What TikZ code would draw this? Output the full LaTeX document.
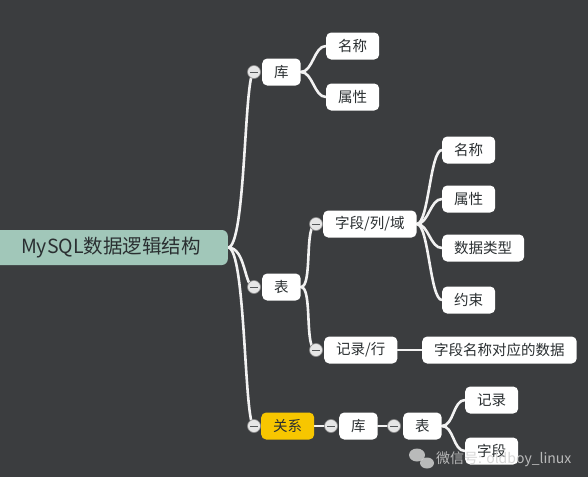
\documentclass[tikz,border=0pt]{standalone}
\usepackage{fontspec}
\setmainfont{Noto Sans CJK SC}
\definecolor{bgc}{HTML}{3B3D3F}
\definecolor{rootc}{HTML}{A1C7B9}
\definecolor{textc}{HTML}{2A2F31}
\definecolor{linkc}{HTML}{F2F2F2}
\definecolor{relyellow}{HTML}{F7C600}
\definecolor{collc}{HTML}{E6E6E6}
\definecolor{collborder}{HTML}{8A8A8A}
\definecolor{wmc}{HTML}{D0D0D0}
\pgfdeclarelayer{bg}
\pgfsetlayers{bg,main}
\begin{document}
\begin{tikzpicture}[x=1pt,y=-1pt,
  leaf/.style={fill=white, rounded corners=5pt, minimum height=27pt, inner xsep=12pt, inner ysep=0pt, anchor=west, font=\fontsize{14.5}{14.5}\selectfont, text=textc},
  rel/.style={leaf, fill=relyellow},
  coll/.style={circle, fill=collc, draw=collborder, line width=0.6pt, minimum size=13pt, inner sep=0pt,
    path picture={\draw[line width=1pt, textc!80] ([xshift=-3.8pt]path picture bounding box.center) -- ([xshift=3.8pt]path picture bounding box.center);}},
  link/.style={draw=linkc, line width=2.6pt, line cap=round},
  curve/.style={to path={(\tikztostart) .. controls +(12,0) and +(-12,0) .. (\tikztotarget)}},
  rootcurve/.style={to path={(\tikztostart) .. controls +(18,0) and +(-10,0) .. (\tikztotarget)}}]
\clip (0,0) rectangle (588,477);
\useasboundingbox (0,0) rectangle (588,477);
\begin{pgfonlayer}{bg}
\fill[bgc] (0,0) rectangle (588,477);
\end{pgfonlayer}

% root
\node[fill=rootc, rounded corners=6pt, minimum height=35pt, inner xsep=27pt, anchor=east, text=textc,
  font=\fontsize{19.5}{19.5}\selectfont] (root) at (228,247.5) {\hspace*{30pt}MySQL数据逻辑结构};

% level 1
\node[leaf] (ku1) at (262,72) {库};
\node[coll] (cku1) at (254,72) {};
\node[leaf] (biao) at (262,287) {表};
\node[coll] (cbiao) at (254,287) {};
\node[rel] (gx) at (261,426) {关系};
\node[coll] (cgx) at (254,426) {};

% children of 库
\node[leaf] (ming1) at (326,46) {名称};
\node[leaf] (shu1) at (326,97) {属性};

% children of 表
\node[leaf] (zd) at (323,224) {字段/列/域};
\node[coll] (czd) at (316,224) {};
\node[leaf] (jl) at (324,350) {记录/行};
\node[coll] (cjl) at (316,350) {};

\node[leaf] (m2) at (442,150) {名称};
\node[leaf] (s2) at (442,199) {属性};
\node[leaf] (lx) at (442,248) {数据类型};
\node[leaf] (ys) at (442,300) {约束};

\node[leaf] (data) at (422,350) {字段名称对应的数据};

% relation chain
\node[leaf] (ku2) at (339,426) {库};
\node[coll] (cku2) at (331,426) {};
\node[leaf] (b2) at (403,426) {表};
\node[coll] (cb2) at (394,426) {};
\node[leaf] (jl2) at (465,400) {记录};
\node[leaf] (zd2) at (465,451) {字段};

% watermark
\node[text=wmc, opacity=0.85, font=\fontsize{14}{14}\selectfont, anchor=west, inner sep=0pt] (wm) at (436,459) {微信号: oldboy\_linux};
\fill[wmc, opacity=0.85] (417,455) ellipse (8pt and 6.5pt);
\fill[wmc, opacity=0.85] (427,463) ellipse (7pt and 5.5pt);

\begin{pgfonlayer}{bg}
\path[link] (root.east) to[rootcurve] (cku1.center);
\path[link] (root.east) to[rootcurve] (cbiao.center);
\path[link] (root.east) to[rootcurve] (cgx.center);
\path[link] (ku1.east) to[curve] (ming1.west);
\path[link] (ku1.east) to[curve] (shu1.west);
\path[link] (biao.east) to[curve] (czd.center);
\path[link] (biao.east) to[curve] (cjl.center);
\path[link] (zd.east) to[curve] (m2.west);
\path[link] (zd.east) to[curve] (s2.west);
\path[link] (zd.east) to[curve] (lx.west);
\path[link] (zd.east) to[curve] (ys.west);
\path[link] (jl.east) -- (data.west);
\path[link] (gx.east) -- (cku2.center);
\path[link] (ku2.east) -- (cb2.center);
\path[link] (b2.east) to[curve] (jl2.west);
\path[link] (b2.east) to[curve] (zd2.west);
\end{pgfonlayer}
\end{tikzpicture}
\end{document}
